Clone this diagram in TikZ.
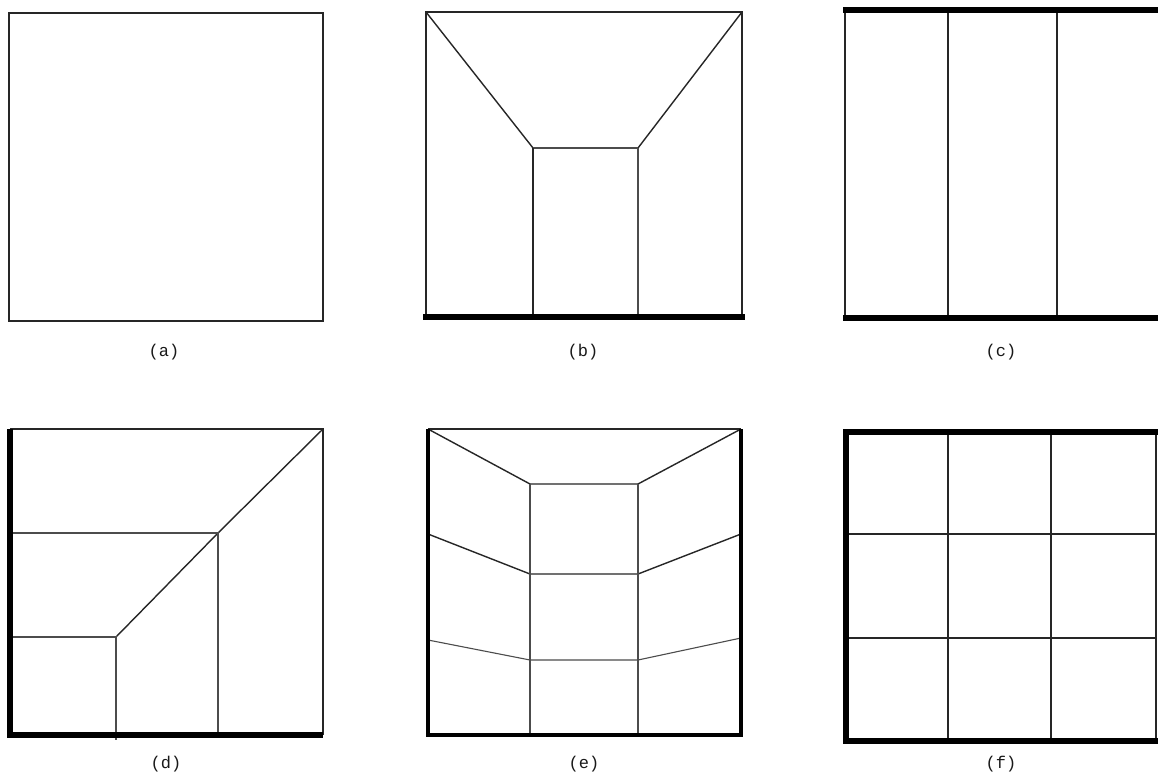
\documentclass[tikz,border=0pt]{standalone}
\usepackage{fontspec}
\setmonofont{Liberation Mono}
\begin{document}
\begin{tikzpicture}[x=1pt,y=-1pt,
  thinline/.style={draw=black!85,line width=1.4pt},
  innerline/.style={draw=black!70,line width=1.1pt},
  thickline/.style={draw=black,line width=5.5pt},
  lbl/.style={font=\ttfamily\fontsize{17}{19}\selectfont,text=black!90,inner sep=0pt}]
\useasboundingbox[fill=white] (0,0) rectangle (1158,779);

% (a)
\coordinate (a1) at (9,13); \coordinate (a2) at (323,321);
\draw[thinline] (a1) rectangle (a2);
\node[lbl] (la) at (164,352) {(a)};

% (b)
\coordinate (b1) at (426,12); \coordinate (b2) at (742,12);
\coordinate (b3) at (742,317); \coordinate (b4) at (426,317);
\coordinate (bi1) at (533,148); \coordinate (bi2) at (638,148);
\coordinate (bb1) at (533,317); \coordinate (bb2) at (638,317);
\draw[thinline] (b4) -- (b1) -- (b2) -- (b3);
\draw[thinline] (b1) -- (bi1);
\draw[thinline] (b2) -- (bi2);
\draw[innerline] (bi1) -- (bi2);
\draw[thinline] (bi1) -- (bb1);
\draw[innerline] (bi2) -- (bb2);
\draw[thickline] (423,317) -- (745,317);
\node[lbl] (lb) at (583,352) {(b)};

% (c)
\coordinate (c1) at (845,10); \coordinate (c4) at (845,318);
\coordinate (cv1) at (948,10); \coordinate (cv1b) at (948,318);
\coordinate (cv2) at (1057,10); \coordinate (cv2b) at (1057,318);
\draw[thinline] (c1) -- (c4);
\draw[thinline] (cv1) -- (cv1b);
\draw[thinline] (cv2) -- (cv2b);
\draw[thickline] (843,10) -- (1170,10);
\draw[thickline] (843,318) -- (1170,318);
\node[lbl] (lc) at (1001,352) {(c)};

% (d)
\coordinate (d1) at (10,429); \coordinate (d2) at (323,429);
\coordinate (d3) at (323,735); \coordinate (d4) at (10,735);
\coordinate (dp1) at (116,637); \coordinate (dp2) at (218,533);
\coordinate (dl1) at (10,637); \coordinate (dl2) at (10,533);
\coordinate (db1) at (116,740); \coordinate (db2) at (218,735);
\draw[thinline] (d1) -- (d2) -- (d3);
\draw[thinline] (dp1) -- (dp2) -- (d2);
\draw[innerline] (dl1) -- (dp1) -- (db1);
\draw[innerline] (dl2) -- (dp2) -- (db2);
\draw[thickline] (d1) -- (d4) -- (d3);
\node[lbl] (ld) at (166,764) {(d)};

% (e)
\coordinate (e1) at (428,429); \coordinate (e2) at (741,429);
\coordinate (e3) at (741,735); \coordinate (e4) at (428,735);
\coordinate (ei1) at (530,484); \coordinate (ei2) at (638,484);
\coordinate (em1) at (530,574); \coordinate (em2) at (638,574);
\coordinate (en1) at (530,660); \coordinate (en2) at (638,660);
\coordinate (eb1) at (530,735); \coordinate (eb2) at (638,735);
\coordinate (el1) at (428,534); \coordinate (er1) at (741,534);
\coordinate (el2) at (428,640); \coordinate (er2) at (741,638);
\draw[thinline] (e1) -- (e2);
\draw[thinline] (e1) -- (ei1) -- (ei2) -- (e2);
\draw[thinline] (el1) -- (em1) -- (em2) -- (er1);
\draw[innerline] (el2) -- (en1) -- (en2) -- (er2);
\draw[innerline] (ei1) -- (eb1);
\draw[innerline] (ei2) -- (eb2);
\draw[thickline,line width=4.5pt] (e1) -- (e4) -- (e3) -- (e2);
\node[lbl] (le) at (584,764) {(e)};

% (f)
\coordinate (f1) at (846,432); \coordinate (f2) at (1156,432);
\coordinate (f3) at (1156,741); \coordinate (f4) at (846,741);
\coordinate (fv1) at (948,432); \coordinate (fv1b) at (948,741);
\coordinate (fv2) at (1051,432); \coordinate (fv2b) at (1051,741);
\coordinate (fh1) at (846,534); \coordinate (fh1b) at (1156,534);
\coordinate (fh2) at (846,638); \coordinate (fh2b) at (1156,638);
\draw[thinline] (f2) -- (f3);
\draw[thinline] (fv1) -- (fv1b);
\draw[thinline] (fv2) -- (fv2b);
\draw[thinline] (fh1) -- (fh1b);
\draw[thinline] (fh2) -- (fh2b);
\draw[thickline,line width=6pt] (1170,432) -- (f1) -- (f4) -- (1170,741);
\node[lbl] (lf) at (1001,764) {(f)};
\end{tikzpicture}
\end{document}
